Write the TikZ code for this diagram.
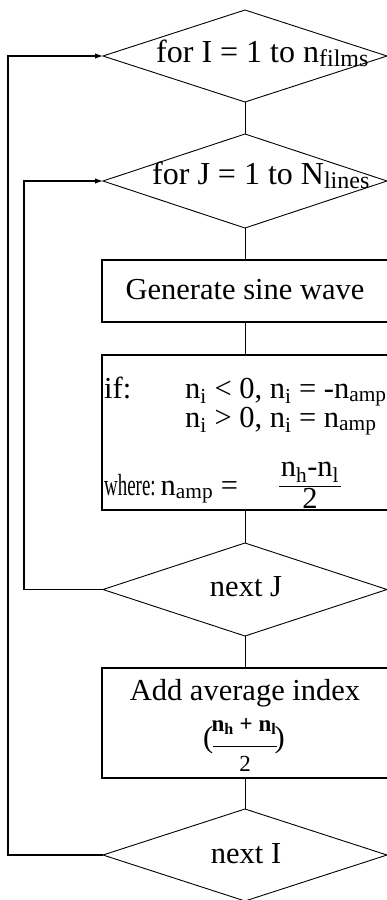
\documentclass[tikz,border=0pt]{standalone}
\usepackage{fontspec}
\setmainfont{Liberation Serif}
\usetikzlibrary{shapes.geometric,arrows.meta}
\newcommand{\lsub}[1]{\raisebox{-0.3ex}{\fontsize{24}{26}\selectfont #1}} % wide subscripts of the loop heads
\tikzset{
  dec/.style  = {
    draw, shape=diamond, line width=0.9pt,
    minimum width=284pt, minimum height=92pt,
    inner sep=0pt, outer sep=0pt % vertices are the anchors
  },
  proc/.style = {draw, line width=1.5pt, minimum width=286pt, inner sep=0pt, outer sep=0pt},
  txt/.style  = {inner sep=0pt, font=\fontsize{30.5}{36}\selectfont},
  head/.style = {txt, font=\fontsize{32}{36}\selectfont},
  frc/.style  = {inner sep=0pt, font=\fontsize{23}{27}\selectfont},
  link/.style = {line width=0.8pt},
  loopln/.style = {line width=1.2pt, -{Latex[length=8pt,width=5.5pt]}}
}

\begin{document}
\begin{tikzpicture}[x=1pt,y=-1pt]
\useasboundingbox (0,0) rectangle (387,900);
\clip (0,0) rectangle (387,900);
% loop heads and tails
\node[dec] (fI) at (245,56) {};
\node[dec, minimum height=94pt] (fJ) at (245,181) {};
\node[dec, minimum height=93pt] (nJ) at (245,589.5) {};
\node[dec] (nI) at (245,855) {};
% process boxes (right side runs off the page)
\node[proc, minimum height=62pt] (gen) at (245,291) {};
\node[proc, minimum height=155pt] (cond) at (245,432.5) {};
\node[proc, minimum height=110pt] (avg) at (245,723) {};
% texts
\node[head, anchor=base west] (fIt) at (156,62) {for I = 1 to n\lsub{films}};
\node[head, anchor=base west] (fJt) at (152,184) {for J = 1 to N\lsub{lines}};
\node[txt, anchor=base] (gent) at (245,299) {Generate sine wave};
\node[txt, anchor=base west] (ift) at (104,398) {if:};
\node[txt, anchor=base west] (c1t) at (185,398) {n\textsubscript{i} < 0, n\textsubscript{i} = -n\textsubscript{amp}};
\node[txt, anchor=base west] (c2t) at (185,427) {n\textsubscript{i} > 0, n\textsubscript{i} = n\textsubscript{amp}};
\node[txt, anchor=base west] (wht) at (104,495) {\scalebox{0.62}[1]{where:}\,n\textsubscript{amp} =};
\node[txt, anchor=base] (numt) at (310,476) {n\textsubscript{h}-n\textsubscript{l}};
\node[txt, anchor=base] (dent) at (310,508) {2};
\draw[link] (279,486) -- (341,486); % fraction bar
\node[txt, anchor=base] (nJt) at (246,596) {next J};
\node[txt, anchor=base] (avgt) at (245,700) {Add average index};
\node[txt, anchor=base west] (lpar) at (203,747) {(};
\node[txt, anchor=base east] (rpar) at (285,747) {)};
\node[frc, anchor=base, font=\fontsize{23}{27}\selectfont\bfseries] (num2) at (244,731) {n\textsubscript{h} + n\textsubscript{l}};
\node[frc, anchor=base] (den2) at (245,771) {2};
\draw[link] (213,746) -- (277,746); % fraction bar
\node[txt, anchor=base] (nIt) at (246,863) {next I};
% main flow
\draw[link] (fI.south) -- (fJ.north);
\draw[link] (fJ.south) -- (gen.north);
\draw[link] (gen.south) -- (cond.north);
\draw[link] (cond.south) -- (nJ.north);
\draw[link] (nJ.south) -- (avg.north);
\draw[link] (avg.south) -- (nI.north);
% back edges
\coordinate (cJ) at (24,589.5);
\coordinate (cI) at (8,855);
\draw[loopln] (nJ.west) -- (cJ) |- (fJ.west);
\draw[loopln] (nI.west) -- (cI) |- (fI.west);
\end{tikzpicture}
\end{document}
